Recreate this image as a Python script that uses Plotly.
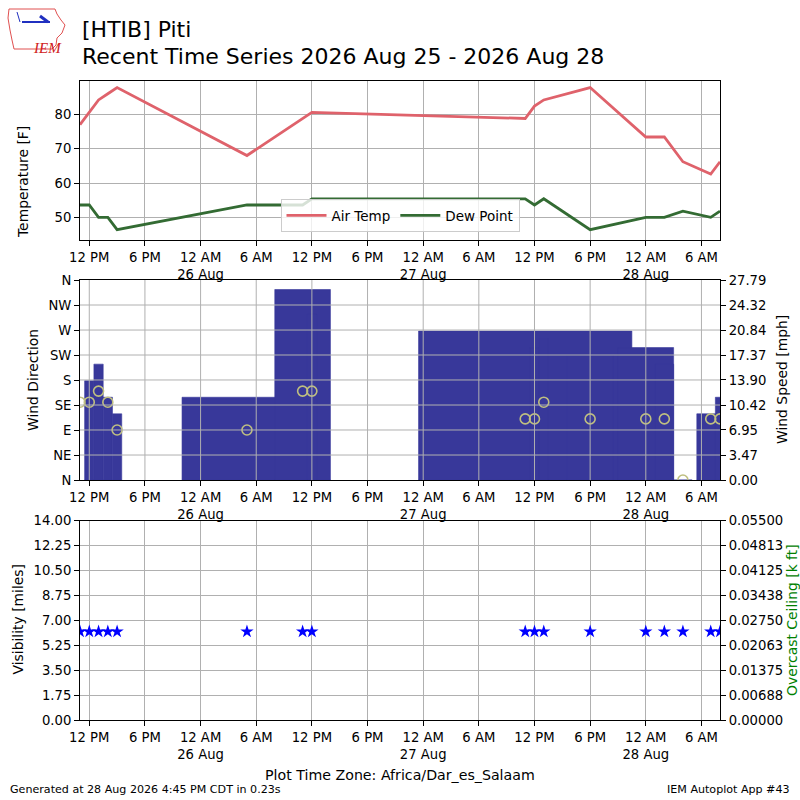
import pandas as pd
import plotly.graph_objects as go

# ---------------- data ----------------
obs_times = [
    "2026-08-25 11:00", "2026-08-25 12:00", "2026-08-25 13:00", "2026-08-25 14:00",
    "2026-08-25 15:00", "2026-08-26 05:00", "2026-08-26 11:00", "2026-08-26 12:00",
    "2026-08-27 11:00", "2026-08-27 12:00", "2026-08-27 13:00", "2026-08-27 18:00",
    "2026-08-28 00:00", "2026-08-28 02:00", "2026-08-28 04:00", "2026-08-28 07:00",
    "2026-08-28 08:00",
]
air_temp_f = [77.0, 80.6, 84.2, 86.0, 87.8, 68.0, 78.8, 80.6,
              78.8, 82.4, 84.2, 87.8, 73.4, 73.4, 66.2, 62.6, 66.2]
dew_point_f = [53.6, 53.6, 50.0, 50.0, 46.4, 53.6, 53.6, 55.4,
               55.4, 53.6, 55.4, 46.4, 50.0, 50.0, 51.8, 50.0, 51.8]
wind_dir_deg = [140, 140, 160, 140, 90, 90, 160, 160,
                110, 110, 140, 110, 110, 110, 0, 110, 110]
wind_speed_mph = [12.7, 13.8, 16.1, 11.5, 9.2, 11.5, 26.47, 23.0,
                  20.7, 18.4, 19.6, 17.3, 18.4, 16.1, 0.0, 9.2, 11.5]
visibility_mi = [6.21, 6.21, 6.21, 6.21, 6.21, 6.21, 6.21, 6.21,
                 6.21, 6.21, 6.21, 6.21, 6.21, 6.21, 6.21, 6.21, 6.21]

x_tick_vals = [
    "2026-08-25 12:00", "2026-08-25 18:00", "2026-08-26 00:00", "2026-08-26 06:00",
    "2026-08-26 12:00", "2026-08-26 18:00", "2026-08-27 00:00", "2026-08-27 06:00",
    "2026-08-27 12:00", "2026-08-27 18:00", "2026-08-28 00:00", "2026-08-28 06:00",
]
x_tick_text = ["12 PM", "6 PM", "12 AM<br>26 Aug", "6 AM",
               "12 PM", "6 PM", "12 AM<br>27 Aug", "6 AM",
               "12 PM", "6 PM", "12 AM<br>28 Aug", "6 AM"]
temp_ticks = [50, 60, 70, 80]
dir_tick_vals = [0, 45, 90, 135, 180, 225, 270, 315, 360]
dir_tick_text = ["N", "NE", "E", "SE", "S", "SW", "W", "NW", "N"]
speed_tick_text = ["0.00", "3.47", "6.95", "10.42", "13.90", "17.37", "20.84", "24.32", "27.79"]
vis_tick_text = ["0.00", "1.75", "3.50", "5.25", "7.00", "8.75", "10.50", "12.25", "14.00"]
ceil_tick_text = ["0.00000", "0.00688", "0.01375", "0.02063", "0.02750",
                  "0.03438", "0.04125", "0.04813", "0.05500"]

# ---------------- derived ----------------
t = pd.to_datetime(obs_times)
bar_width_ms = (t.to_series().diff().dt.total_seconds() * 1000.0).values
speed_top = max(wind_speed_mph) * 1.05
speed_tick_vals = [float(s) for s in speed_tick_text]
speed_tick_vals[-1] = speed_top
vis_tick_vals = [float(s) for s in vis_tick_text]
ceil_tick_vals = [float(s) for s in ceil_tick_text]
ceil_tick_vals[-1] = 0.055

FONT = "DejaVu Sans"
W, H = 800, 800
ML, MR = 80, 80
PW = W - ML - MR


def X(px):
    return (px - ML) / PW


def Y(py):
    return 1 - py / H


GRID = "#b0b0b0"
RED = "#df626b"
GREEN = "#336b33"
BARC = "#38389a"
CIRC = "#bfbf80"

fig = go.Figure()

# panel 1: temperatures
fig.add_trace(go.Scatter(x=t, y=air_temp_f, mode="lines", name="Air Temp",
                         line=dict(color=RED, width=2.8), xaxis="x", yaxis="y"))
fig.add_trace(go.Scatter(x=t, y=dew_point_f, mode="lines", name="Dew Point",
                         line=dict(color=GREEN, width=2.8), xaxis="x", yaxis="y"))

# panel 2: wind speed bars (right axis y2), wind direction circles (left axis y3)
fig.add_trace(go.Bar(x=t[1:], y=wind_speed_mph[1:], width=list(bar_width_ms[1:]),
                     marker=dict(color=BARC, line=dict(width=0.6, color=BARC)),
                     showlegend=False, xaxis="x2", yaxis="y2"))
fig.add_trace(go.Scatter(x=t, y=wind_dir_deg, mode="markers", showlegend=False,
                         marker=dict(symbol="circle-open", size=10, color=CIRC,
                                     line=dict(width=1.6, color=CIRC)),
                         xaxis="x2", yaxis="y3"))

# panel 3: visibility stars (left y4), ceiling (right y5, no data)
fig.add_trace(go.Scatter(x=t, y=visibility_mi, mode="markers", showlegend=False,
                         marker=dict(symbol="star", size=10, color="#0000ff"),
                         xaxis="x3", yaxis="y4"))
fig.add_trace(go.Scatter(x=[], y=[], mode="markers", showlegend=False,
                         xaxis="x3", yaxis="y5"))

xr = [t[0], t[-1]]
tickfont = dict(family=FONT, size=13.2, color="black")

def xax(anchor, showgrid=True):
    return dict(anchor=anchor, domain=[0, 1], range=xr, type="date",
                tickmode="array", tickvals=x_tick_vals, ticktext=x_tick_text,
                ticks="outside", ticklen=5, tickcolor="black", tickfont=tickfont,
                showline=True, linecolor="black", linewidth=1, mirror=True,
                showgrid=showgrid, gridcolor=GRID, gridwidth=1, zeroline=False,
                automargin=False)

def yax(**kw):
    d = dict(ticks="outside", ticklen=5, tickcolor="black", tickfont=tickfont,
             showline=True, linecolor="black", linewidth=1, zeroline=False,
             gridcolor=GRID, gridwidth=1, automargin=False, tickmode="array")
    d.update(kw)
    return d

dom1 = [Y(240), Y(80.7)]
dom2 = [Y(480), Y(280)]
dom3 = [Y(720), Y(520.7)]

layout = dict(
    width=W, height=H,
    margin=dict(l=ML, r=MR, t=0, b=0),
    paper_bgcolor="white", plot_bgcolor="white",
    font=dict(family=FONT, size=13, color="black"),
    barmode="overlay",
    xaxis=xax("y"),
    yaxis=yax(anchor="x", domain=dom1, range=[43.4, 89.8], tickvals=temp_ticks,
              showgrid=True, mirror=True),
    xaxis2=xax("y2", showgrid=False),
    yaxis2=yax(anchor="x2", domain=dom2, side="right", range=[0, speed_top],
               tickvals=speed_tick_vals, ticktext=speed_tick_text, showgrid=False),
    yaxis3=yax(anchor="x2", overlaying="y2", side="left", range=[0, 360],
               tickvals=dir_tick_vals, ticktext=dir_tick_text, showgrid=False),
    xaxis3=xax("y4"),
    yaxis4=yax(anchor="x3", domain=dom3, side="left", range=[0, 14],
               tickvals=vis_tick_vals, ticktext=vis_tick_text, showgrid=True),
    yaxis5=yax(anchor="x3", overlaying="y4", side="right", range=[0, 0.055],
               tickvals=ceil_tick_vals, ticktext=ceil_tick_text, showgrid=False),
    legend=dict(orientation="h", x=0.5, xanchor="center", y=Y(232), yanchor="bottom",
                bgcolor="rgba(255,255,255,0.8)", bordercolor="#cccccc", borderwidth=1,
                font=dict(family=FONT, size=13.5, color="black"), itemwidth=40),
    showlegend=True,
)
fig.update_layout(**layout)

# grid lines drawn above the wind bars (panel 2)
shapes = []
for xv in x_tick_vals:
    shapes.append(dict(type="line", xref="x2", yref="y2 domain", x0=xv, x1=xv, y0=0, y1=1,
                       line=dict(color=GRID, width=1), layer="above"))
for yv in speed_tick_vals[1:-1]:
    shapes.append(dict(type="line", xref="x2 domain", yref="y2", x0=0, x1=1, y0=yv, y1=yv,
                       line=dict(color=GRID, width=1), layer="above"))

# simple IEM logo
iowa = [(9, 9), (55, 9), (57, 14), (61, 20), (65, 25), (62, 33), (57, 38), (56, 45),
        (52, 49), (14, 49), (12, 40), (10, 30), (8, 18)]
path = "M " + " L ".join(f"{X(a):.5f},{Y(b):.5f}" for a, b in iowa) + " Z"
shapes.append(dict(type="path", xref="paper", yref="paper", path=path,
                   line=dict(color="#e05050", width=1), layer="above"))
shapes.append(dict(type="line", xref="paper", yref="paper", x0=X(22), x1=X(50),
                   y0=Y(22), y1=Y(22), line=dict(color="#2030c0", width=2)))
shapes.append(dict(type="line", xref="paper", yref="paper", x0=X(40), x1=X(48),
                   y0=Y(16), y1=Y(22), line=dict(color="#2030c0", width=3)))
shapes.append(dict(type="line", xref="paper", yref="paper", x0=X(20), x1=X(17),
                   y0=Y(22), y1=Y(12), line=dict(color="#2030c0", width=1)))
fig.update_layout(shapes=shapes)

ann = []
def text(s, px, py, size=13.9, xanchor="center", angle=0, color="black", yanchor="middle"):
    ann.append(dict(text=s, x=X(px), y=Y(py), xref="paper", yref="paper",
                    xanchor=xanchor, yanchor=yanchor, showarrow=False, textangle=angle,
                    font=dict(family=FONT, size=size, color=color)))

text("[HTIB] Piti", 80, 29, size=22, xanchor="left")
text("Recent Time Series 2026 Aug 25 - 2026 Aug 28", 80, 56, size=22, xanchor="left")
text("Temperature [F]", 22.5, 182.5, angle=-90)
text("Wind Direction", 33, 380, angle=-90)
text("Wind Speed [mph]", 782, 380, angle=-90)
text("Visibility [miles]", 17.5, 619, angle=-90)
text("Overcast Ceiling [k ft]", 792, 620, angle=-90, color="green")
text("Plot Time Zone: Africa/Dar_es_Salaam", 400, 775, size=14.2)
text("Generated at 28 Aug 2026 4:45 PM CDT in 0.23s", 8, 789, size=11.1, xanchor="left")
text("IEM Autoplot App #43", 792, 789, size=11.1, xanchor="right")
ann.append(dict(text="<i>IEM</i>", x=X(31), y=Y(38), xref="paper", yref="paper",
                showarrow=False, font=dict(family="Liberation Serif", size=15, color="#d02020")))
fig.update_layout(annotations=ann)

fig.write_html("out.html",
               config={"displayModeBar": False},
               post_script="document.body.style.margin='0';"
                           "document.body.style.overflow='hidden';")
